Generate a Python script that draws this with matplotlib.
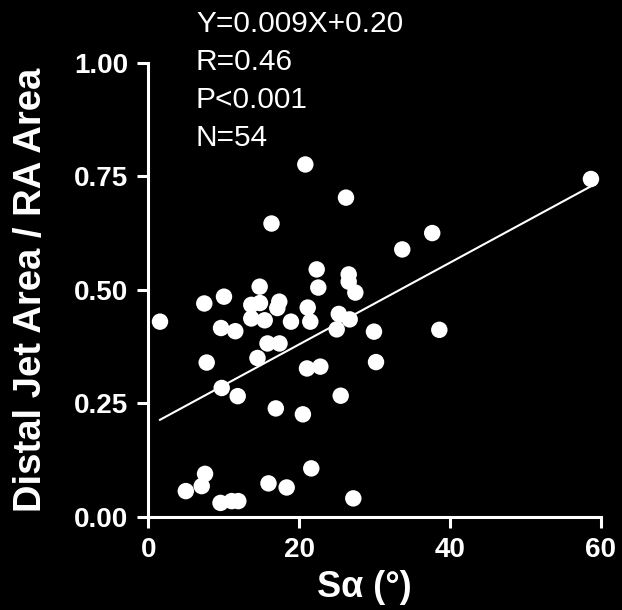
import matplotlib
matplotlib.use("Agg")
import matplotlib.pyplot as plt
import numpy as np

plt.rcParams['font.family'] = ['Liberation Sans', 'DejaVu Sans']

# Data
s_alpha = [1.55, 7.42, 10.03, 14.76, 13.65, 14.80, 13.65, 15.43, 17.36, 17.10,
           9.64, 11.53, 18.91, 21.13, 21.47, 22.32, 22.53, 26.56, 26.56, 27.44,
           25.25, 26.69, 24.97, 29.91, 38.57, 16.33, 20.81, 26.20, 33.66, 37.63,
           58.67, 15.80, 17.39, 14.47, 7.74, 21.03, 22.80, 30.18, 9.73, 11.85,
           16.90, 20.49, 25.50, 7.52, 7.08, 4.97, 9.57, 11.05, 11.93, 15.93,
           18.34, 21.60, 27.17]
jet_ratio = [0.430, 0.470, 0.485, 0.507, 0.467, 0.471, 0.437, 0.433, 0.474, 0.460,
             0.416, 0.409, 0.430, 0.461, 0.430, 0.545, 0.505, 0.534, 0.518, 0.494,
             0.447, 0.435, 0.413, 0.408, 0.412, 0.646, 0.776, 0.703, 0.589, 0.625,
             0.744, 0.382, 0.382, 0.350, 0.340, 0.327, 0.331, 0.341, 0.284, 0.266,
             0.239, 0.226, 0.267, 0.095, 0.068, 0.057, 0.031, 0.035, 0.035, 0.074,
             0.065, 0.107, 0.041]
slope = 0.009
intercept = 0.20
stats_lines = ["Y=0.009X+0.20", "R=0.46", "P<0.001", "N=54"]
x_ticks = [0, 20, 40, 60]
y_ticks = [0.00, 0.25, 0.50, 0.75, 1.00]
y_ticklabels = ["0.00", "0.25", "0.50", "0.75", "1.00"]

W, H = 622, 610
fig = plt.figure(figsize=(W / 100, H / 100), dpi=100, facecolor='black')
ax = fig.add_axes([148.3 / W, 1 - 517 / H, (601 - 148.3) / W, (517 - 62.7) / H])
ax.set_facecolor('black')

xs = np.array(s_alpha)
xl = np.array([xs.min(), xs.max()])
ax.plot(xl, slope * xl + intercept, color='white', lw=1.5, zorder=2)
ax.scatter(xs, jet_ratio, s=140, color='white', edgecolors='none', zorder=3, clip_on=False)

ax.set_xlim(0, 60)
ax.set_ylim(0, 1)
ax.set_xticks(x_ticks)
ax.set_yticks(y_ticks)
ax.set_yticklabels(y_ticklabels)

for sp in ['top', 'right']:
    ax.spines[sp].set_visible(False)
for sp in ['left', 'bottom']:
    ax.spines[sp].set_color('white')
    ax.spines[sp].set_linewidth(2.2)

ax.tick_params(colors='white', width=2.2, length=8, pad=6.5, labelsize=20, direction='out')
for lab in ax.get_xticklabels() + ax.get_yticklabels():
    lab.set_fontweight('bold')

ax.set_xlabel("Sα (°)", fontsize=26, fontweight='bold', color='white', labelpad=5)
ax.xaxis.label.set_x(0.478)
ax.set_ylabel("Distal Jet Area / RA Area", fontsize=27.5, fontweight='bold', color='white', labelpad=18)

baselines = [32, 70, 108, 146]
for txt, b in zip(stats_lines, baselines):
    fig.text(196 / W, 1 - b / H, txt, fontsize=21.5, color='white', ha='left', va='baseline')

fig.savefig("out.png", dpi=100, facecolor='black')
